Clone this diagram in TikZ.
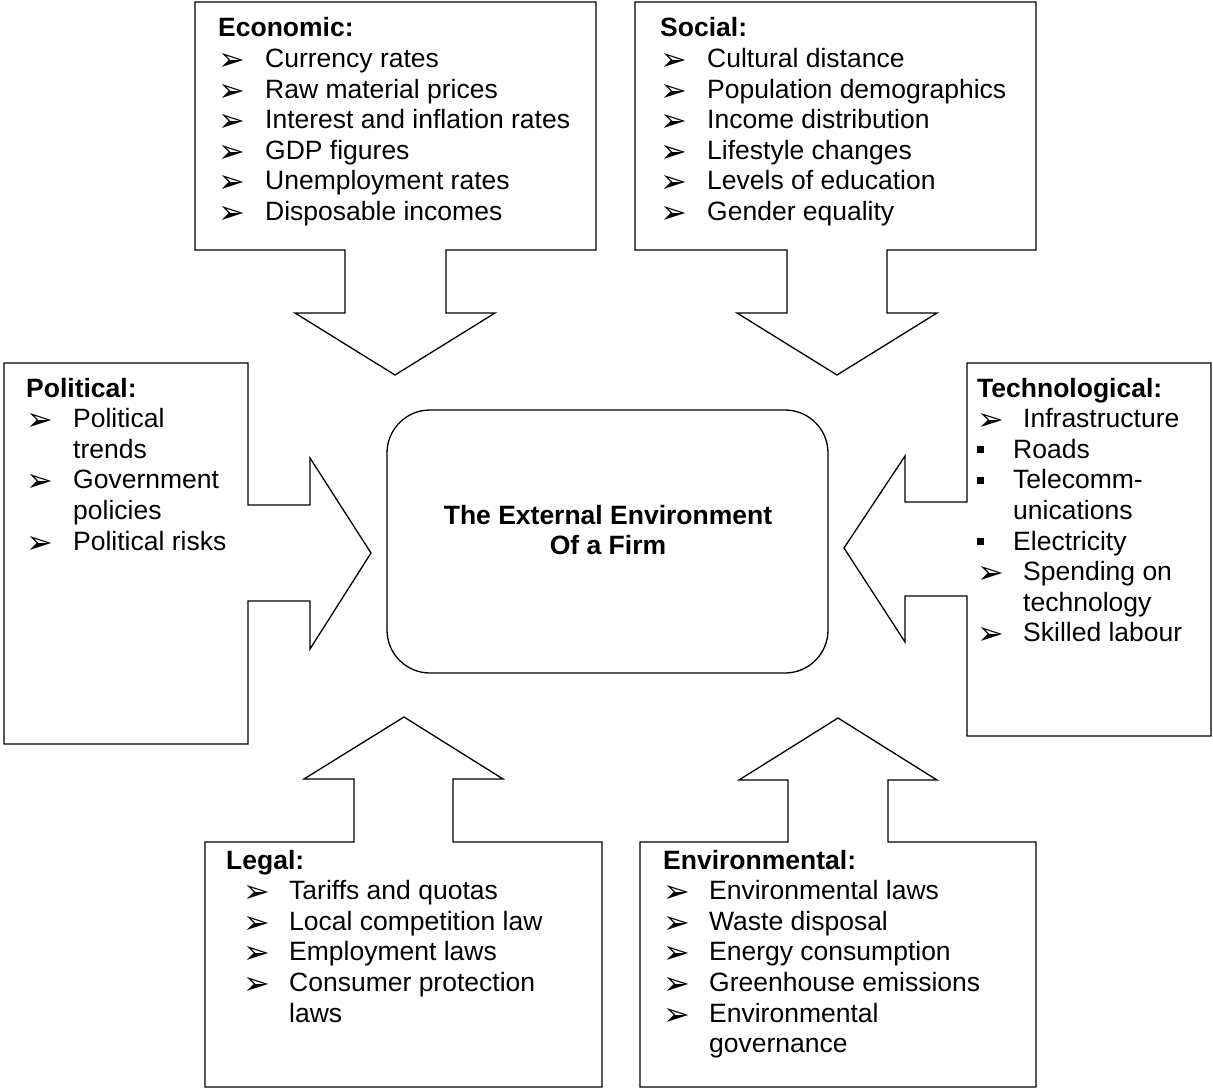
\documentclass[tikz,border=0pt]{standalone}
\usepackage{fontspec}
\setmainfont{Liberation Sans}
\newfontfamily\dingfont{DejaVu Sans}

% list markers
\newcommand\arrbul{\raisebox{-3pt}{\dingfont\fontsize{32}{32}\selectfont ➢}}
\newcommand\sqbul{\rule[5pt]{7pt}{7pt}}
\newcommand\bitem[2]{\makebox[#1][l]{\arrbul}#2}
\newcommand\sitem[2]{\makebox[#1][l]{\sqbul}#2}
\newcommand\cont[2]{\hspace*{#1}#2}

\begin{document}
\begin{tikzpicture}[x=1pt, y=-1pt,
  callout/.style={draw=black, line width=1.3pt, line join=miter},
  listtext/.style={anchor=base west, inner sep=0pt, font=\fontsize{26.5}{30.6}\selectfont},
  hubbox/.style={draw=black, line width=1.3pt, rounded corners=43pt, inner sep=0pt},
  hubtitle/.style={anchor=base, inner sep=0pt, font=\fontsize{26.5}{30.6}\selectfont\bfseries}]

\useasboundingbox (0,0) rectangle (1213,1089);

% ---- callout outlines (box merged with block arrow) ----
% Economic, arrow down
\draw[callout] (195,2) -- (596,2) -- (596,250) -- (446,250) -- (446,313) -- (495,313)
  -- (395,375) -- (295,313) -- (345,313) -- (345,250) -- (195,250) -- cycle;
% Social, arrow down
\draw[callout] (635,2) -- (1036,2) -- (1036,250) -- (887,250) -- (887,313) -- (937,313)
  -- (837,375) -- (737,313) -- (787,313) -- (787,250) -- (635,250) -- cycle;
% Political, arrow right
\draw[callout] (4,363) -- (248,363) -- (248,505) -- (310,505) -- (310,458) -- (371,553)
  -- (310,649) -- (310,601) -- (248,601) -- (248,744) -- (4,744) -- cycle;
% Technological, arrow left
\draw[callout] (967,363) -- (1211,363) -- (1211,736) -- (967,736) -- (967,596) -- (905,596)
  -- (905,642) -- (844,548) -- (905,456) -- (905,502) -- (967,502) -- cycle;
% Legal, arrow up
\draw[callout] (205,842) -- (354,842) -- (354,779) -- (304,779) -- (404,717) -- (503,779)
  -- (453,779) -- (453,842) -- (602,842) -- (602,1087) -- (205,1087) -- cycle;
% Environmental, arrow up
\draw[callout] (640,842) -- (788,842) -- (788,780) -- (739,780) -- (838,718) -- (937,780)
  -- (888,780) -- (888,842) -- (1036,842) -- (1036,1087) -- (640,1087) -- cycle;

% ---- central box ----
\node[hubbox, minimum width=441pt, minimum height=263pt] (hub) at (607.5,541.5) {};
\node[hubtitle] (hubtext) at (608,524) {\begin{tabular}[t]{@{}c@{}}The External Environment\\Of a Firm\end{tabular}};

% ---- factor lists ----
\node[listtext] (economic) at (218,37) {\begin{tabular}[t]{@{}l@{}}
\textbf{Economic:}\\
\bitem{47pt}{Currency rates}\\
\bitem{47pt}{Raw material prices}\\
\bitem{47pt}{Interest and inflation rates}\\
\bitem{47pt}{GDP figures}\\
\bitem{47pt}{Unemployment rates}\\
\bitem{47pt}{Disposable incomes}
\end{tabular}};

\node[listtext] (social) at (660,37) {\begin{tabular}[t]{@{}l@{}}
\textbf{Social:}\\
\bitem{47pt}{Cultural distance}\\
\bitem{47pt}{Population demographics}\\
\bitem{47pt}{Income distribution}\\
\bitem{47pt}{Lifestyle changes}\\
\bitem{47pt}{Levels of education}\\
\bitem{47pt}{Gender equality}
\end{tabular}};

\node[listtext] (political) at (26,397) {\begin{tabular}[t]{@{}l@{}}
\textbf{Political:}\\
\bitem{47pt}{Political}\\
\cont{47pt}{trends}\\
\bitem{47pt}{Government}\\
\cont{47pt}{policies}\\
\bitem{47pt}{Political risks}
\end{tabular}};

\node[listtext] (technological) at (977,397) {\begin{tabular}[t]{@{}l@{}}
\textbf{Technological:}\\
\bitem{46pt}{Infrastructure}\\
\sitem{36pt}{Roads}\\
\sitem{36pt}{Telecomm-}\\
\cont{36pt}{unications}\\
\sitem{36pt}{Electricity}\\
\bitem{46pt}{Spending on}\\
\cont{46pt}{technology}\\
\bitem{46pt}{Skilled labour}
\end{tabular}};

\node[listtext] (legal) at (226,869) {\begin{tabular}[t]{@{}l@{}}
\textbf{Legal:}\\
\cont{17pt}{\bitem{46pt}{Tariffs and quotas}}\\
\cont{17pt}{\bitem{46pt}{Local competition law}}\\
\cont{17pt}{\bitem{46pt}{Employment laws}}\\
\cont{17pt}{\bitem{46pt}{Consumer protection}}\\
\cont{63pt}{laws}
\end{tabular}};

\node[listtext] (environmental) at (663,869) {\begin{tabular}[t]{@{}l@{}}
\textbf{Environmental:}\\
\bitem{46pt}{Environmental laws}\\
\bitem{46pt}{Waste disposal}\\
\bitem{46pt}{Energy consumption}\\
\bitem{46pt}{Greenhouse emissions}\\
\bitem{46pt}{Environmental}\\
\cont{46pt}{governance}
\end{tabular}};

\end{tikzpicture}
\end{document}
